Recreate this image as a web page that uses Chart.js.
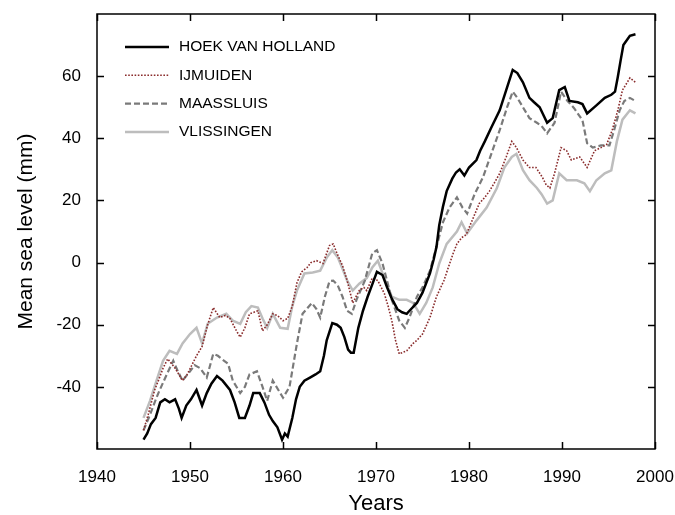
<!DOCTYPE html>
<html>
<head>
<meta charset="utf-8">
<script src="https://cdn.jsdelivr.net/npm/chart.js@4/dist/chart.umd.min.js"></script>
<style>
  html, body { margin: 0; padding: 0; background: #fff; }
  #wrap { width: 675px; height: 515px; }
</style>
</head>
<body>
<div id="wrap"><canvas id="sea"></canvas></div>
<script>
// --- data (year, mean sea level in mm) ---

const hoekYears = [1945.0,1945.4,1945.8,1946.3,1946.8,1947.3,1947.8,1948.4,1948.8,1949.1,1949.6,1950.1,1950.7,1951.3,1951.8,1952.3,1952.9,1953.5,1954.3,1954.8,1955.3,1955.9,1956.4,1956.8,1957.5,1958.0,1958.5,1958.9,1959.4,1959.9,1960.2,1960.5,1961.0,1961.4,1961.8,1962.3,1962.9,1963.5,1964.0,1964.4,1964.7,1965.3,1965.8,1966.2,1966.6,1967.0,1967.3,1967.6,1968.1,1968.6,1969.1,1969.6,1970.1,1970.7,1971.2,1971.7,1972.3,1972.8,1973.3,1973.6,1974.4,1975.0,1975.8,1976.2,1976.5,1976.8,1977.2,1977.6,1978.2,1978.6,1979.0,1979.5,1980.0,1980.8,1981.2,1981.7,1982.4,1983.3,1984.0,1984.7,1985.2,1985.8,1986.5,1987.0,1987.6,1988.4,1989.0,1989.7,1990.3,1990.8,1991.7,1992.2,1992.7,1993.7,1994.6,1995.3,1995.7,1996.0,1996.3,1996.6,1997.3,1997.9];
const hoekValues = [-57,-55,-52,-50,-45,-44,-45,-44,-47,-50,-46,-44,-41,-46,-42,-39,-36.5,-38,-41,-45,-50,-50,-46,-42,-42,-45,-49,-51,-53,-57,-55,-56,-50,-44,-40,-38,-37,-36,-35,-30,-25,-19.5,-20,-21,-24,-28,-29,-29,-21,-15.5,-11,-7,-3,-4,-8,-11.6,-15,-16,-16.5,-15.5,-13,-9.7,-3.5,1,5,12,18,23,27,29,30,28,30.6,33,36,39,43.5,49,55.5,62,61,58,53,51.6,50,45,46.5,55.5,56.5,52,51.6,51,48,50.6,53,54,55,59.7,65,70,73,73.5];

const ijmuidenYears = [1945.0,1945.5,1946.2,1946.6,1947.1,1947.6,1948.4,1949.2,1949.7,1950.2,1950.7,1951.3,1951.9,1952.5,1953.2,1953.8,1954.3,1955.0,1955.4,1955.9,1956.4,1957.3,1957.8,1958.3,1958.9,1959.4,1960.0,1960.5,1961.0,1961.5,1962.0,1962.6,1963.0,1963.6,1964.3,1965.0,1965.4,1965.8,1966.4,1966.9,1967.5,1968.2,1968.7,1969.0,1969.6,1970.2,1970.9,1971.3,1971.7,1972.1,1972.5,1973.3,1974.0,1974.4,1975.0,1975.8,1976.5,1977.3,1978.3,1978.7,1979.2,1979.7,1980.4,1981.1,1981.7,1982.2,1982.8,1983.3,1984.0,1984.6,1985.1,1985.8,1986.5,1987.2,1987.9,1988.3,1988.7,1989.2,1989.9,1990.5,1991.0,1991.9,1992.7,1993.5,1994.2,1994.8,1995.4,1996.0,1996.5,1997.3,1997.9];
const ijmuidenValues = [-54,-49,-41,-38,-34,-31,-34,-38,-36,-33,-30,-27,-20,-14.5,-17.7,-17,-18,-22,-24,-21,-16.5,-15.5,-22,-20,-16.5,-17,-18.7,-18,-14,-6.5,-3,-1.6,0,0.6,-0.3,5.5,6,3,-1,-5.8,-13,-9,-8,-9,-5,-5.8,-10,-14,-18.7,-25,-29.4,-28.4,-26,-25,-23,-17.7,-11,-5.8,3,6,8,9,14,19,21,23,26,28.7,34,39,37,33,30.6,30.6,27.4,25,24,28.7,37,36,33,34,30.6,36,37,38,42.6,49,55.5,59.4,58];

const maassluisYears = [1945.0,1945.7,1946.2,1946.6,1947.5,1948.2,1948.7,1949.2,1950.0,1950.5,1951.1,1951.8,1952.5,1953.0,1953.4,1954.1,1954.6,1955.4,1955.9,1956.4,1957.2,1957.8,1958.3,1958.9,1959.5,1960.0,1960.7,1961.1,1961.5,1962.1,1963.1,1963.6,1964.0,1964.5,1965.0,1965.4,1965.9,1966.4,1966.9,1967.4,1967.9,1968.8,1969.6,1970.1,1970.7,1971.2,1971.7,1972.5,1973.1,1973.6,1974.4,1975.0,1975.8,1976.5,1977.2,1977.9,1978.7,1979.3,1979.8,1980.6,1981.5,1982.4,1983.3,1984.1,1984.7,1985.2,1986.0,1986.5,1987.3,1987.8,1988.4,1989.2,1989.9,1990.6,1991.3,1992.2,1992.7,1993.3,1994.2,1995.1,1995.6,1996.2,1996.7,1997.3,1997.9];
const maassluisValues = [-54,-49,-45,-42,-36,-31.6,-35,-38,-35,-33,-34,-37,-29.4,-30,-31,-32.6,-38,-42,-40,-36,-35,-40,-44.5,-38,-41,-43.5,-40,-33,-26,-16.5,-13,-15,-17.7,-11,-6,-5.8,-7.4,-11,-15.5,-16.5,-12,-5.8,3,4,-0.3,-6,-12,-18.7,-21,-17.7,-11,-8,-2.6,5,13,17.7,21,17.7,15.8,22,27.4,35,42.6,50,55,53,49,46.5,45,44,41.6,45,55,52,49.7,45.8,38.4,37,37.7,37.7,42.6,49,52,53,52];

const vlissingenYears = [1945.0,1945.7,1946.4,1947.1,1947.8,1948.6,1949.2,1950.0,1950.7,1951.3,1951.9,1952.9,1953.9,1954.6,1955.4,1956.0,1956.6,1957.3,1957.8,1958.3,1958.9,1959.7,1960.5,1961.0,1961.5,1962.3,1963.2,1964.0,1964.7,1965.3,1965.9,1966.4,1966.9,1967.5,1968.2,1969.0,1969.6,1970.2,1970.9,1971.7,1972.5,1973.3,1974.0,1974.7,1975.4,1976.1,1976.8,1977.6,1978.7,1979.2,1979.8,1980.8,1981.9,1983.0,1983.8,1984.6,1985.1,1985.8,1986.5,1987.3,1987.8,1988.4,1989.0,1989.7,1990.5,1991.6,1992.4,1993.0,1993.7,1994.6,1995.3,1995.9,1996.5,1997.3,1997.9];
const vlissingenValues = [-50,-44.5,-38,-31.6,-28.4,-29.4,-26,-23,-21,-26,-19.7,-17.7,-16.5,-18.7,-19.7,-16,-14,-14.5,-18,-21,-16.5,-21,-21.3,-14,-9,-3.5,-3.2,-2.6,1.6,4,1.6,-2,-5.8,-9,-6.8,-5,-1.6,0.6,-5,-11,-12,-12,-13,-16.5,-13,-8,-0.3,6,10,13,9.4,13.5,17.7,24,30.6,34,35,29.7,26.5,24,22,19,20,28.7,26.5,26.5,25.5,23,26.5,28.7,29.7,39,46,49,48];

const xTicks = [1940, 1950, 1960, 1970, 1980, 1990, 2000];
const yTicks = [-40, -20, 0, 20, 40, 60];

const FONT = '"Liberation Sans", Arial, sans-serif';

function points(xs, ys) {
  return xs.map((x, i) => ({ x, y: ys[i] }));
}

// frame with inward ticks on all four sides, plus the legend box inside the plot
const framePlugin = {
  id: 'frame',
  afterDraw(chart) {
    const ctx = chart.ctx;
    const { left, right, top, bottom } = chart.chartArea;
    const xs = chart.scales.x, ys = chart.scales.y;
    const tl = 7;

    ctx.save();
    ctx.strokeStyle = '#000';
    ctx.lineWidth = 1.5;
    ctx.strokeRect(left, top, right - left, bottom - top);

    ctx.beginPath();
    xTicks.forEach(v => {
      const px = Math.round(xs.getPixelForValue(v)) + 0.5;
      ctx.moveTo(px, bottom); ctx.lineTo(px, bottom - tl);
      ctx.moveTo(px, top); ctx.lineTo(px, top + tl);
    });
    yTicks.forEach(v => {
      const py = Math.round(ys.getPixelForValue(v)) + 0.5;
      ctx.moveTo(left, py); ctx.lineTo(left + tl, py);
      ctx.moveTo(right, py); ctx.lineTo(right - tl, py);
    });
    ctx.stroke();

    // legend
    ctx.font = '15.5px ' + FONT;
    ctx.textBaseline = 'middle';
    ctx.fillStyle = '#000';
    chart.data.datasets.forEach((ds, i) => {
      const y = 47 + i * 28.3;
      ctx.beginPath();
      ctx.strokeStyle = ds.borderColor;
      ctx.lineWidth = ds.borderWidth;
      ctx.setLineDash(ds.borderDash || []);
      ctx.moveTo(125, y); ctx.lineTo(169, y);
      ctx.stroke();
      ctx.setLineDash([]);
      ctx.fillText(ds.label, 179, y);
    });
    ctx.restore();
  }
};

new Chart(document.getElementById('sea'), {
  type: 'line',
  data: {
    datasets: [
      { label: 'HOEK VAN HOLLAND', data: points(hoekYears, hoekValues), borderColor: '#000000', borderWidth: 2.5 },
      { label: 'IJMUIDEN', data: points(ijmuidenYears, ijmuidenValues), borderColor: '#8a2c2c', borderWidth: 1.6, borderDash: [1.6, 1.6] },
      { label: 'MAASSLUIS', data: points(maassluisYears, maassluisValues), borderColor: '#7a7a7a', borderWidth: 2.2, borderDash: [6, 3] },
      { label: 'VLISSINGEN', data: points(vlissingenYears, vlissingenValues), borderColor: '#bdbdbd', borderWidth: 2.5 },
    ],
  },
  options: {
    responsive: true,
    maintainAspectRatio: false,
    animation: false,
    events: [],
    layout: { padding: { left: 0, right: 20, top: 14, bottom: 0 } },
    elements: { point: { radius: 0 }, line: { tension: 0, fill: false } },
    plugins: { legend: { display: false }, tooltip: { enabled: false } },
    scales: {
      x: {
        type: 'linear',
        min: 1940, max: 2000,
        afterBuildTicks: s => { s.ticks = xTicks.map(v => ({ value: v })); },
        afterFit: s => { s.height = 66; s.paddingLeft = 0; s.paddingRight = 0; },
        grid: { display: true, drawOnChartArea: false, drawTicks: false },
        border: { display: false },
        ticks: { color: '#000', padding: 18, font: { family: FONT, size: 17 }, callback: v => String(v) },
        title: { display: true, text: 'Years', color: '#000', font: { family: FONT, size: 22, lineHeight: 1.0 }, padding: { top: 0, bottom: 0 } },
      },
      y: {
        type: 'linear',
        min: -60, max: 80,
        afterBuildTicks: s => { s.ticks = yTicks.map(v => ({ value: v })); },
        afterFit: s => { s.width = 97; s.paddingTop = 0; s.paddingBottom = 0; },
        grid: { display: true, drawOnChartArea: false, drawTicks: false },
        border: { display: false },
        ticks: { color: '#000', padding: 16, font: { family: FONT, size: 17 } },
        title: { display: true, text: 'Mean sea level (mm)', color: '#000', font: { family: FONT, size: 21, lineHeight: 1.2 }, padding: { top: 14, bottom: 0 } },
      },
    },
  },
  plugins: [framePlugin],
});
</script>
</body>
</html>
